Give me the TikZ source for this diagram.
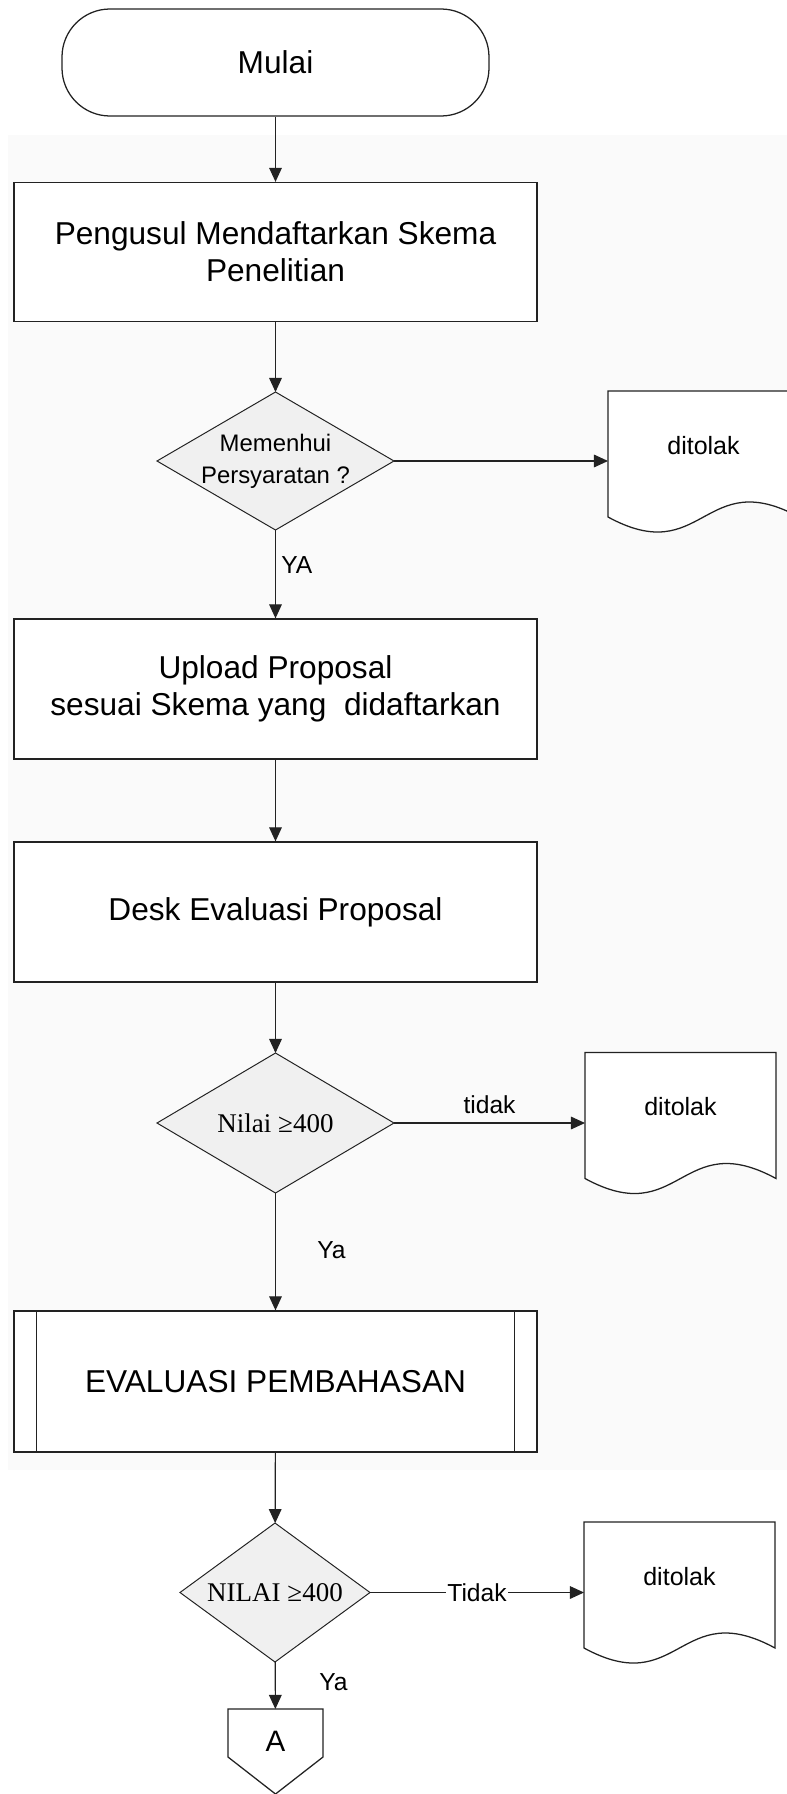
\documentclass[tikz,border=0pt]{standalone}
\usepackage{fontspec}
\setmainfont{Liberation Sans}
\newfontfamily\nilaifont{Liberation Serif}
\usetikzlibrary{shapes,arrows.meta,positioning,backgrounds}
\definecolor{latar}{HTML}{FAFAFA}
\definecolor{garis}{HTML}{222222}
\def \pu {0.025cm}
\tikzstyle{terminal} = [draw=garis,line width=0.9pt,rectangle,rounded corners=1.2cm,fill=white,minimum width=427*\pu,minimum height=107*\pu,font=\fontsize{22.5}{27}\selectfont]
\tikzstyle{proses} = [draw=garis,line width=0.9pt,rectangle,fill=white,minimum width=523*\pu,minimum height=139*\pu,align=center,font=\fontsize{22.5}{26.5}\selectfont]
\tikzstyle{putusan} = [draw=garis,line width=0.7pt,diamond,shape aspect=1.72,fill=black!6,inner sep=-1pt,outer sep=0pt,minimum width=237*\pu,minimum height=138*\pu,align=center]
\tikzstyle{dokumen} = [rectangle,inner sep=0pt,outer sep=0pt,minimum width=191*\pu,minimum height=126*\pu,text height=12pt,text depth=12pt,font=\fontsize{17.8}{21}\selectfont]
\tikzstyle{sambung} = [rectangle,inner sep=0pt,outer sep=0pt,minimum width=95*\pu,minimum height=85*\pu,text height=10pt,text depth=10pt,font=\fontsize{21}{25}\selectfont]
\tikzstyle{tepi} = [draw=garis,line width=0.9pt]
\tikzstyle{alir} = [-{Triangle[length=10pt,width=9pt]},line width=0.8pt,draw=garis]
\tikzstyle{ket} = [inner sep=0pt,font=\fontsize{17.5}{21}\selectfont]
\tikzstyle{nilaiteks} = [font=\nilaifont\fontsize{19.2}{23}\selectfont]

\begin{document}
\begin{tikzpicture}[x=\pu,y=-\pu]
  \useasboundingbox (0,0) rectangle (787,1794);
  \begin{scope}[on background layer]
    \fill[latar] (8,135) rectangle (787,1470);
  \end{scope}
  % alur utama
  \node[terminal] (mulai) at (275.5,62.5) {Mulai};
  \node[proses] (daftar) at (275.5,252) {Pengusul Mendaftarkan Skema\\Penelitian};
  \node[putusan,font=\fontsize{17}{22.5}\selectfont] (syarat) at (275.5,461) {Memenhui\\Persyaratan ?};
  \node[proses,minimum height=140*\pu] (upload) at (275.5,689) {Upload Proposal\\sesuai Skema yang\ \ didaftarkan};
  \node[proses,minimum height=140*\pu] (desk) at (275.5,912) {Desk Evaluasi Proposal};
  \node[putusan,nilaiteks,minimum height=140*\pu] (nilai1) at (275.5,1123) {Nilai ≥400};
  \node[proses,minimum height=141*\pu] (bahas) at (275.5,1381.5) {EVALUASI PEMBAHASAN};
  \node[putusan,nilaiteks,shape aspect=1.37,minimum width=190*\pu,minimum height=139*\pu] (nilai2) at (275,1592.5) {NILAI ≥400};
  \node[sambung] (konA) at (275.5,1751.5) {A};
  % yang ditolak
  \node[dokumen] (tolak1) at (703.5,454) {ditolak};
  \node[dokumen] (tolak2) at (680.5,1115.5) {ditolak};
  \node[dokumen] (tolak3) at (679.5,1585) {ditolak};
  \begin{scope}[on background layer]
    \foreach \t in {tolak1,tolak2,tolak3}
      \draw[tepi,fill=white] (\t.south west) -- (\t.north west) -- (\t.north east) -- (\t.south east)
        .. controls ([yshift=52*\pu]\t.south) and ([yshift=-52*\pu]\t.south) .. (\t.south west) -- cycle;
  \end{scope}
  \draw[tepi] ([xshift=23*\pu]bahas.north west) -- ([xshift=23*\pu]bahas.south west);
  \draw[tepi] ([xshift=-23*\pu]bahas.north east) -- ([xshift=-23*\pu]bahas.south east);
  \draw[tepi] (konA.north west) -- (konA.north east) -- ([yshift=37*\pu]konA.south east) -- (konA.south) -- ([yshift=37*\pu]konA.south west) -- cycle;
  % panah
  \draw[alir] (mulai) -- (daftar);
  \draw[alir] (daftar) -- (syarat);
  \draw[alir] (syarat.east) -- (syarat.east -| tolak1.west);
  \draw[alir] (syarat) -- (upload);
  \draw[alir] (upload) -- (desk);
  \draw[alir] (desk) -- (nilai1);
  \draw[alir] (nilai1.east) -- node[ket,above,inner sep=6pt] (tidak1) {tidak} (nilai1.east -| tolak2.west);
  \draw[alir] (nilai1) -- (bahas);
  \draw[alir] (bahas) -- (nilai2);
  \draw[alir] (nilai2.east) -- node[ket,fill=white,inner sep=1pt] (tidak2) {Tidak} (nilai2.east -| tolak3.west);
  \draw[alir] (nilai2) -- (konA);
  % label
  \node[ket,anchor=west] (ya1) at (281,565) {YA};
  \node[ket,anchor=west] (ya2) at (317,1250) {Ya};
  \node[ket,anchor=west] (ya3) at (319,1682) {Ya};
\end{tikzpicture}
\end{document}
